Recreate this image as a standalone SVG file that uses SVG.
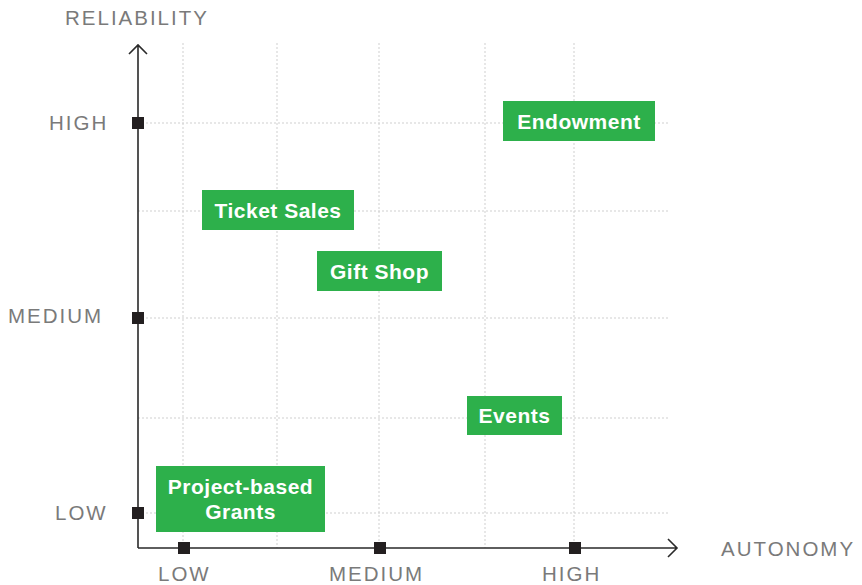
<svg xmlns="http://www.w3.org/2000/svg" width="862" height="585" viewBox="0 0 862 585">
<style>
.grid{stroke:#cfcfcf;stroke-width:1;stroke-dasharray:2,2;fill:none}
.axis{stroke:#2a2a2a;stroke-width:1.6;fill:none}
.tick{fill:#231f20}
.lbl{font-family:"Liberation Sans",Arial,sans-serif;font-size:20.5px;fill:#7a7a7a;letter-spacing:2px}
.box{fill:#2db04b}
.bt{font-family:"Liberation Sans",Arial,sans-serif;font-size:21px;font-weight:bold;fill:#ffffff;text-anchor:middle;letter-spacing:0.5px}
</style>
<rect width="862" height="585" fill="#ffffff"/>
<g id="grid">
<line class="grid" x1="183" y1="43" x2="183" y2="548"/>
<line class="grid" x1="277" y1="43" x2="277" y2="548"/>
<line class="grid" x1="379" y1="43" x2="379" y2="548"/>
<line class="grid" x1="485" y1="43" x2="485" y2="548"/>
<line class="grid" x1="574" y1="43" x2="574" y2="548"/>
<line class="grid" x1="138" y1="123" x2="670" y2="123"/>
<line class="grid" x1="138" y1="211" x2="670" y2="211"/>
<line class="grid" x1="138" y1="318" x2="670" y2="318"/>
<line class="grid" x1="138" y1="418" x2="670" y2="418"/>
<line class="grid" x1="138" y1="513" x2="670" y2="513"/>
</g>
<g id="axes">
<path class="axis" d="M138,548 V46 M129,54 L138,45 L147,54"/>
<path class="axis" d="M138,548 H676 M668,539 L677,548 L668,557"/>
<rect class="tick" x="132" y="117" width="12" height="12"/>
<rect class="tick" x="132" y="312" width="12" height="12"/>
<rect class="tick" x="132" y="507" width="12" height="12"/>
<rect class="tick" x="178" y="542" width="12" height="12"/>
<rect class="tick" x="374" y="542" width="12" height="12"/>
<rect class="tick" x="569" y="542" width="12" height="12"/>
</g>
<g id="labels">
<text class="lbl" x="65" y="25">RELIABILITY</text>
<text class="lbl" x="49" y="130">HIGH</text>
<text class="lbl" x="8" y="323">MEDIUM</text>
<text class="lbl" x="55" y="520">LOW</text>
<text class="lbl" x="158" y="581">LOW</text>
<text class="lbl" x="329" y="581">MEDIUM</text>
<text class="lbl" x="542" y="581">HIGH</text>
<text class="lbl" x="721" y="556">AUTONOMY</text>
</g>
<g id="endowment">
<rect class="box" x="503" y="101" width="152" height="40"/>
<text class="bt" x="579" y="129">Endowment</text>
</g>
<g id="ticket-sales">
<rect class="box" x="202" y="190" width="152" height="40"/>
<text class="bt" x="278" y="218">Ticket Sales</text>
</g>
<g id="gift-shop">
<rect class="box" x="317" y="251" width="125" height="40"/>
<text class="bt" x="379.5" y="279">Gift Shop</text>
</g>
<g id="events">
<rect class="box" x="467" y="396" width="95" height="39"/>
<text class="bt" x="514.5" y="423">Events</text>
</g>
<g id="project-based-grants">
<rect class="box" x="156" y="466" width="169" height="66"/>
<text class="bt" x="240.5" y="494">Project-based</text>
<text class="bt" x="240.5" y="519">Grants</text>
</g>
</svg>
